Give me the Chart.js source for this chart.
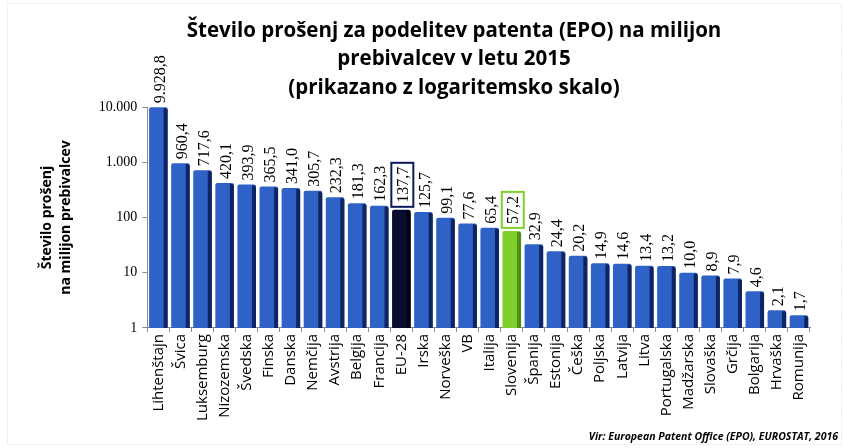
<!DOCTYPE html>
<html lang="sl">
<head>
<meta charset="UTF-8">
<title>Število prošenj za podelitev patenta (EPO)</title>
<script src="https://cdn.jsdelivr.net/npm/chart.js@4.4.1/dist/chart.umd.min.js"></script>
<style>
  html, body { margin: 0; padding: 0; background: #fff; }
  .wrap { position: relative; width: 844px; height: 448px; }
</style>
</head>
<body>
<div class="wrap"><canvas id="patentChart" width="844" height="448"></canvas></div>

<script>
  const countries = ['Lihtenštajn', 'Švica', 'Luksemburg', 'Nizozemska', 'Švedska', 'Finska', 'Danska',
    'Nemčija', 'Avstrija', 'Belgija', 'Francija', 'EU-28', 'Irska', 'Norveška', 'VB', 'Italija',
    'Slovenija', 'Španija', 'Estonija', 'Češka', 'Poljska', 'Latvija', 'Litva', 'Portugalska',
    'Madžarska', 'Slovaška', 'Grčija', 'Bolgarija', 'Hrvaška', 'Romunija'];
  const applications = [9928.8, 960.4, 717.6, 420.1, 393.9, 365.5, 341.0, 305.7, 232.3, 181.3,
    162.3, 137.7, 125.7, 99.1, 77.6, 65.4, 57.2, 32.9, 24.4, 20.2, 14.9, 14.6, 13.4, 13.2,
    10.0, 8.9, 7.9, 4.6, 2.1, 1.7];
  const yTicks = [1, 10, 100, 1000, 10000];
  const titleLines = ['Število prošenj za podelitev patenta (EPO) na milijon',
    'prebivalcev v letu 2015', '(prikazano z logaritemsko skalo)'];
  const axisTitle = ['Število prošenj', 'na milijon prebivalcev'];
  const sourceNote = 'Vir: European Patent Office (EPO), EUROSTAT, 2016';

  // barve: EU-28 temno modra, Slovenija zelena, ostale modre
  const faceColor = c => c === 'EU-28' ? '#0b0d2e' : c === 'Slovenija' ? '#7fcf2c' : '#2f62c6';
  const edgeColor = c => c === 'EU-28' ? '#000010' : c === 'Slovenija' ? '#4c8f14' : '#0f2461';
  const boxColor = { 'EU-28': '#0b1a5c', 'Slovenija': '#7fd12a' };

  // 9928.8 -> "9.928,8"
  function slNum(v, dec) {
    const parts = v.toFixed(dec).split('.');
    parts[0] = parts[0].replace(/\B(?=(\d{3})+(?!\d))/g, '.');
    return parts.join(',');
  }

  const titlePlugin = {
    id: 'titleLines',
    beforeDraw(chart) {
      // rahel pikčast okvir slike
      const ctx = chart.ctx;
      ctx.save();
      ctx.strokeStyle = '#d6dbc8';
      ctx.lineWidth = 1;
      ctx.setLineDash([1, 2]);
      ctx.strokeRect(7.5, 3.5, 834, 441);
      ctx.restore();
    },
    afterDraw(chart) {
      const ctx = chart.ctx;
      ctx.save();
      ctx.fillStyle = '#000';
      ctx.font = 'bold 20.5px "Open Sans"';
      ctx.textAlign = 'center';
      ctx.textBaseline = 'middle';
      titleLines.forEach((t, i) => ctx.fillText(t, 454, 31 + i * 28.5));
      ctx.font = 'italic bold 10.5px "Open Sans"';
      ctx.textAlign = 'right';
      ctx.fillText(sourceNote, 838, 437);
      ctx.restore();
    }
  };

  const barPlugin = {
    id: 'barDecor',
    afterDatasetsDraw(chart) {
      const ctx = chart.ctx;
      const meta = chart.getDatasetMeta(0);
      ctx.save();
      meta.data.forEach((bar, i) => {
        const { x, y, base, width } = bar.getProps(['x', 'y', 'base', 'width'], true);
        const c = countries[i];
        // temni desni rob (3D videz)
        ctx.fillStyle = edgeColor(c);
        ctx.beginPath();
        ctx.roundRect(x + width / 2 - 4, y + 1, 4, base - y - 1, [0, 2, 0, 0]);
        ctx.fill();

        // oznaka vrednosti
        const label = slNum(applications[i], 1);
        ctx.save();
        ctx.translate(x + 1, y - 4);
        ctx.rotate(-Math.PI / 2);
        ctx.font = '16px "Liberation Serif"';
        const w = ctx.measureText(label).width;
        if (boxColor[c]) {
          ctx.fillStyle = '#fff';
          ctx.fillRect(-1, -11, w + 8, 22);
          ctx.strokeStyle = boxColor[c];
          ctx.lineWidth = 2;
          ctx.strokeRect(-1, -11, w + 8, 22);
          ctx.translate(3, 0);
        }
        ctx.fillStyle = '#000';
        ctx.textAlign = 'left';
        ctx.textBaseline = 'middle';
        ctx.fillText(label, 0, 1);
        ctx.restore();
      });
      ctx.restore();
    }
  };

  new Chart(document.getElementById('patentChart'), {
    type: 'bar',
    data: {
      labels: countries,
      datasets: [{
        data: applications,
        backgroundColor: countries.map(faceColor),
        borderWidth: 0,
        borderRadius: { topLeft: 2, topRight: 2 },
        borderSkipped: 'bottom',
        barPercentage: 0.84,
        categoryPercentage: 1.0
      }]
    },
    options: {
      responsive: false,
      animation: false,
      layout: { padding: { top: 107, left: 38, right: 34, bottom: 25 } },
      plugins: {
        legend: { display: false },
        title: { display: false },
        tooltip: { enabled: false }
      },
      scales: {
        x: {
          grid: { display: true, drawOnChartArea: false, color: '#888', tickLength: 4 },
          border: { color: '#888', width: 1 },
          ticks: {
            color: '#000',
            font: { family: '"Open Sans"', size: 15 },
            minRotation: 90,
            maxRotation: 90,
            autoSkip: false,
            padding: 2
          }
        },
        y: {
          type: 'logarithmic',
          min: 1,
          max: 10000,
          afterBuildTicks(scale) {
            scale.ticks = yTicks.map(v => ({ value: v }));
          },
          grid: { display: true, drawOnChartArea: false, color: '#888', tickLength: 5 },
          border: { color: '#888', width: 1 },
          ticks: {
            color: '#000',
            font: { family: '"Liberation Serif"', size: 14 },
            padding: 5,
            callback: v => slNum(v, 0)
          },
          title: {
            display: true,
            text: axisTitle,
            color: '#000',
            font: { family: '"Open Sans"', size: 14, weight: 'bold', lineHeight: 1.35 },
            padding: { top: 0, bottom: 18 }
          }
        }
      }
    },
    plugins: [titlePlugin, barPlugin]
  });
</script>
</body>
</html>
